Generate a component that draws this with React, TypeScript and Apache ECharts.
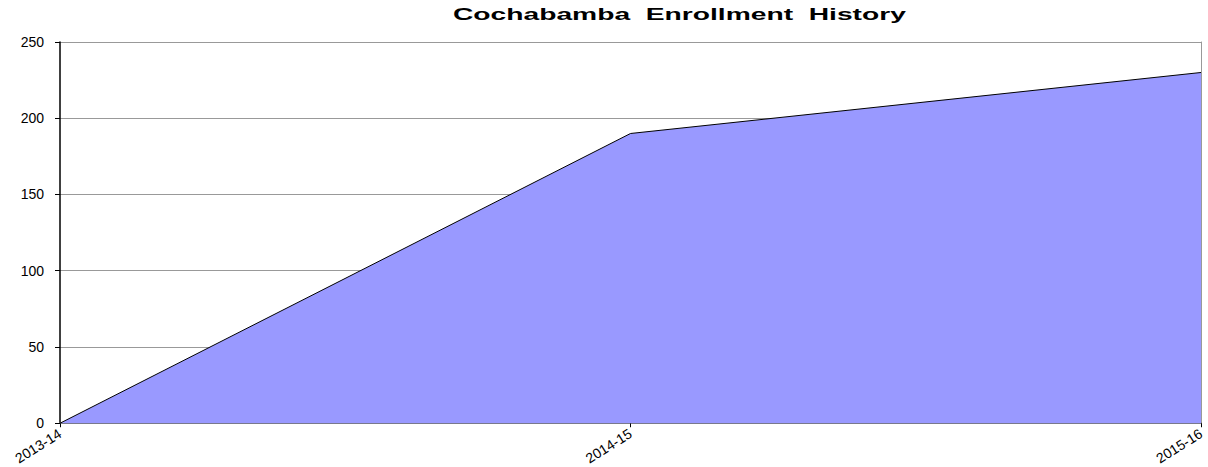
import React, { useEffect, useRef } from "react";
import * as echarts from "echarts";

const categories = ["2013-14", "2014-15", "2015-16"];
const enrollment = [0, 190, 230];
const yTicks = { min: 0, max: 250, interval: 50 };
const titleText = "Cochabamba  Enrollment  History";

export default function App() {
  const ref = useRef<HTMLDivElement>(null);
  useEffect(() => {
    if (!ref.current) return;
    const chart = echarts.init(ref.current, null, { renderer: "svg" });
    chart.setOption({
      animation: false,
      backgroundColor: "#ffffff",
      graphic: [
        {
          type: "text",
          x: 453,
          y: 6,
          scaleX: 1.66,
          style: {
            text: titleText,
            font: "bold 17px 'Liberation Sans', Arial, sans-serif",
            fill: "#000",
          },
        },
      ],
      grid: { left: 60, right: 7, top: 42, bottom: 41, containLabel: false },
      xAxis: {
        type: "category",
        data: categories,
        boundaryGap: false,
        axisLine: { lineStyle: { color: "#666", width: 1.5 } },
        axisTick: { show: true, alignWithLabel: true, length: 4, lineStyle: { color: "#000" } },
        axisLabel: {
          rotate: 32,
          fontFamily: "'Liberation Sans', Arial, sans-serif",
          fontSize: 14,
          color: "#000",
          margin: 9,
          interval: 0,
        },
        splitLine: { show: false },
      },
      yAxis: [
        {
          type: "value",
          min: yTicks.min,
          max: yTicks.max,
          interval: yTicks.interval,
          axisLine: { show: true, lineStyle: { color: "#000", width: 1.5 } },
          axisTick: { show: true, length: 5, lineStyle: { color: "#000" } },
          axisLabel: {
            fontFamily: "'Liberation Sans', Arial, sans-serif",
            fontSize: 14,
            color: "#000",
            margin: 16,
          },
          splitLine: { show: true, lineStyle: { color: "#999", width: 1 } },
        },
        {
          type: "value",
          position: "right",
          min: yTicks.min,
          max: yTicks.max,
          interval: yTicks.interval,
          axisLine: { show: true, lineStyle: { color: "#999", width: 1 } },
          axisTick: { show: false },
          axisLabel: { show: false },
          splitLine: { show: false },
        },
      ],
      series: [
        {
          type: "line",
          data: enrollment,
          symbol: "none",
          lineStyle: { color: "#000", width: 1 },
          areaStyle: { color: "#9999ff", opacity: 1 },
          z: 3,
        },
      ],
    });
    return () => chart.dispose();
  }, []);
  return (
    <div
      ref={ref}
      style={{ position: "fixed", left: 0, top: 0, width: 1208, height: 467 }}
    />
  );
}
